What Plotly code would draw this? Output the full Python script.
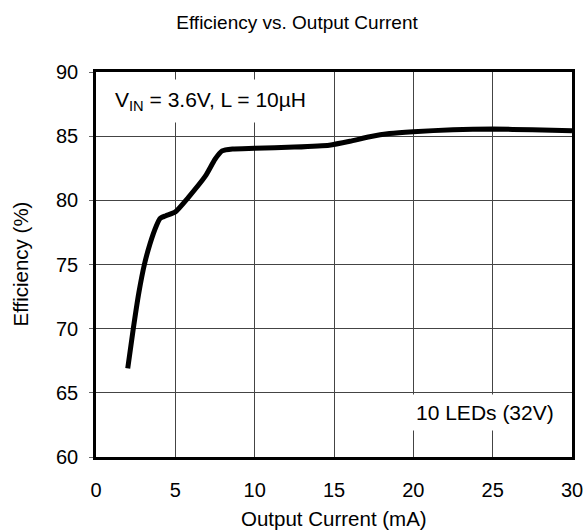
import plotly.graph_objects as go

# Data
current_ma = [2.0, 2.35, 2.7, 3.05, 3.4, 3.8, 4.05, 4.4, 5.0, 5.8, 6.9, 7.5, 7.95, 8.6,
              10.0, 12.5, 14.7, 16.0, 17.25, 18.5, 20.0, 22.5, 25.0, 27.5, 30.0]
efficiency = [66.9, 70.0, 72.8, 75.0, 76.6, 78.0, 78.6, 78.8, 79.1, 80.2, 81.9, 83.2, 83.85, 84.0,
              84.05, 84.15, 84.3, 84.6, 84.95, 85.2, 85.35, 85.5, 85.55, 85.5, 85.42]
x_ticks = [0, 5, 10, 15, 20, 25, 30]
y_ticks = [60, 65, 70, 75, 80, 85, 90]

FONT = "Liberation Sans, Arial, sans-serif"

fig = go.Figure()
fig.add_trace(go.Scatter(
    x=current_ma, y=efficiency, mode="lines",
    line=dict(color="black", width=5, shape="spline", smoothing=0.5),
    showlegend=False, hoverinfo="skip",
))

fig.update_layout(
    template="none",
    width=588, height=530,
    margin=dict(l=96, r=16, t=72, b=73, autoexpand=False),
    paper_bgcolor="white", plot_bgcolor="white",
    font=dict(family=FONT, size=20, color="black"),
    title=dict(text="Efficiency vs. Output Current", x=297 / 588, xref="container", xanchor="center",
               y=1 - 22 / 530, yref="container", yanchor="middle",
               font=dict(family=FONT, size=19, color="black")),
    xaxis=dict(range=[0, 30], tickvals=x_ticks, ticktext=[str(v) for v in x_ticks],
               automargin=False,
               showgrid=True, gridcolor="#444", gridwidth=1, zeroline=False,
               showline=True, linecolor="black", linewidth=2.5, mirror=True,
               ticks="", ticklabelstandoff=13,
               tickfont=dict(family=FONT, size=20, color="black")),
    yaxis=dict(range=[60, 90], tickvals=y_ticks, ticktext=[str(v) for v in y_ticks],
               automargin=False,
               showgrid=True, gridcolor="#444", gridwidth=1, zeroline=False,
               showline=True, linecolor="black", linewidth=2.5, mirror=True,
               ticks="outside", ticklen=4, tickcolor="#666", ticklabelstandoff=7,
               tickfont=dict(family=FONT, size=20, color="black")),
    annotations=[
        dict(text="Output Current (mA)", xref="paper", yref="paper", x=0.5, y=0,
             yshift=-61, xanchor="center", yanchor="middle", showarrow=False,
             font=dict(family=FONT, size=20.5, color="black")),
        dict(text="Efficiency (%)", xref="paper", yref="paper", x=0, y=0.5,
             xshift=-76, xanchor="center", yanchor="middle", textangle=-90, showarrow=False,
             font=dict(family=FONT, size=20.5, color="black")),
        dict(text="V<sub>IN</sub> = 3.6V, L = 10µH", xref="x", yref="y", x=0.63, y=87.75,
             xanchor="left", yanchor="middle", showarrow=False, bgcolor="white",
             borderpad=8, font=dict(family=FONT, size=21, color="black")),
        dict(text="10 LEDs (32V)", xref="x", yref="y", x=19.72, y=63.43,
             xanchor="left", yanchor="middle", showarrow=False, bgcolor="white",
             borderpad=6, font=dict(family=FONT, size=21, color="black")),
    ],
)

fig.write_html("out.html", config={"displayModeBar": False},
               post_script="document.body.style.margin='0';document.body.style.overflow='hidden';")
